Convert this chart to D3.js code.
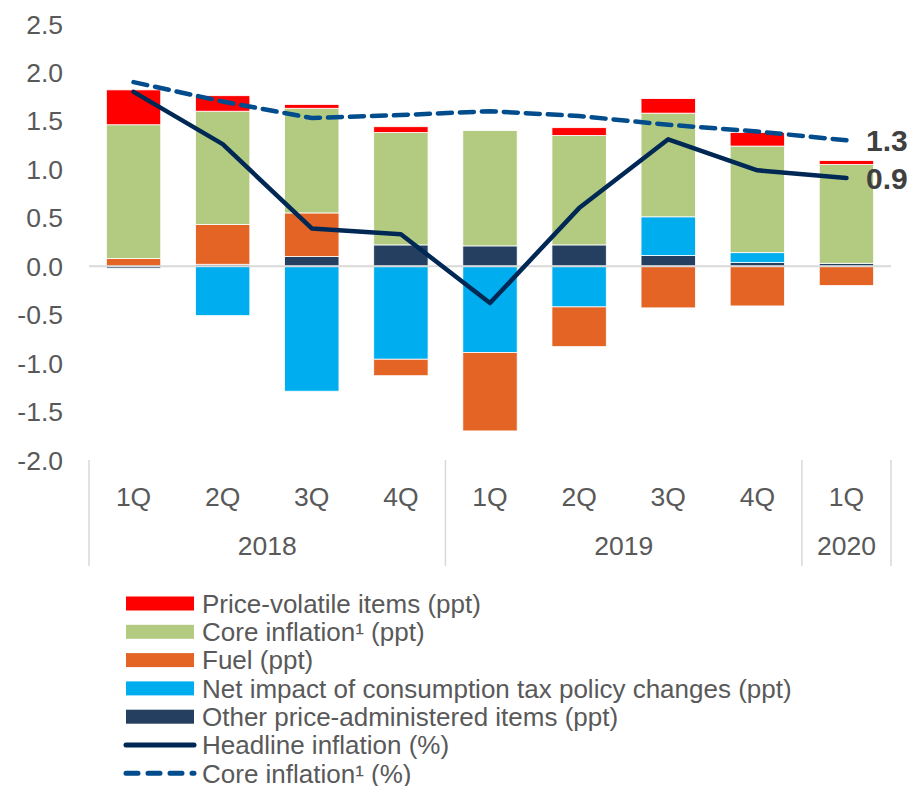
<!DOCTYPE html>
<html>
<head>
<meta charset="utf-8">
<script src="https://cdn.jsdelivr.net/npm/d3@7"></script>
<style>
  body { margin: 0; background: #fff; }
  text { font-family: "Liberation Sans", Arial, sans-serif; }
</style>
</head>
<body>
<div id="chart"></div>
<script>
const quarters = ["1Q", "2Q", "3Q", "4Q", "1Q", "2Q", "3Q", "4Q", "1Q"];
const years = [
  { label: "2018", start: 0, end: 4 },
  { label: "2019", start: 4, end: 8 },
  { label: "2020", start: 8, end: 9 },
];
const otherAdmin = [-0.02, 0.02, 0.1, 0.22, 0.21, 0.22, 0.11, 0.04, 0.03];
const consTax = [0, -0.51, -1.29, -0.96, -0.89, -0.42, 0.4, 0.1, 0];
const fuel = [0.08, 0.41, 0.45, -0.17, -0.81, -0.41, -0.43, -0.41, -0.2];
const coreContrib = [1.38, 1.17, 1.08, 1.16, 1.19, 1.13, 1.07, 1.1, 1.02];
const volatile = [0.36, 0.16, 0.04, 0.06, 0, 0.08, 0.15, 0.14, 0.04];
const headline = [1.8, 1.26, 0.39, 0.33, -0.38, 0.6, 1.31, 0.99, 0.91];
const coreRate = [1.9, 1.7, 1.53, 1.56, 1.6, 1.55, 1.46, 1.39, 1.3];
const yTicks = [-2, -1.5, -1, -0.5, 0, 0.5, 1, 1.5, 2, 2.5];

const series = [
  { key: "other", name: "Other price-administered items (ppt)", values: otherAdmin, color: "#243F60" },
  { key: "tax", name: "Net impact of consumption tax policy changes (ppt)", values: consTax, color: "#00AEEF" },
  { key: "fuel", name: "Fuel (ppt)", values: fuel, color: "#E46426" },
  { key: "core", name: "Core inflation\u00b9 (ppt)", values: coreContrib, color: "#B3CB81" },
  { key: "vol", name: "Price-volatile items (ppt)", values: volatile, color: "#FF0000" },
];

const width = 913, height = 786;
const m = { left: 89, right: 22, top: 24, plotBottom: 460 };

const svg = d3.select("#chart").append("svg")
  .attr("width", width).attr("height", height);

const idx = d3.range(quarters.length);
const x = d3.scaleBand().domain(idx).range([m.left, width - m.right]).paddingInner(0.39).paddingOuter(0.195);
const y = d3.scaleLinear().domain([-2, 2.5]).range([m.plotBottom, m.top]);

const rows = idx.map(i => {
  const r = { i };
  series.forEach(s => r[s.key] = s.values[i]);
  return r;
});
const stacked = d3.stack().keys(series.map(s => s.key)).offset(d3.stackOffsetDiverging)(rows);

// y labels
svg.append("g").selectAll("text").data(yTicks).join("text")
  .attr("x", 63).attr("y", d => y(d)).attr("dy", "0.36em")
  .attr("text-anchor", "end").attr("font-size", 26.5).attr("fill", "#595959")
  .text(d => d3.format(".1f")(d).replace("\u2212", "-"));

// bars
svg.append("g").selectAll("g").data(stacked).join("g")
  .attr("fill", (d, k) => series[k].color)
  .selectAll("rect").data(d => d).join("rect")
  .attr("x", d => x(d.data.i))
  .attr("width", x.bandwidth())
  .attr("y", d => y(d[1]))
  .attr("height", d => Math.max(0, y(d[0]) - y(d[1])))
  .attr("stroke", "#fff").attr("stroke-width", 0.8);

// zero line
svg.append("line")
  .attr("x1", m.left).attr("x2", width - m.right)
  .attr("y1", y(0)).attr("y2", y(0))
  .attr("stroke", "#D9D9D9").attr("stroke-width", 2);

// category axis
const step = x.step();
const x0 = m.left;
const sepX = [0, 4, 8, 9].map(k => x0 + k * step);
svg.append("g").selectAll("line").data(sepX).join("line")
  .attr("x1", d => d).attr("x2", d => d)
  .attr("y1", m.plotBottom).attr("y2", 566)
  .attr("stroke", "#D9D9D9").attr("stroke-width", 1.5);

svg.append("g").selectAll("text").data(idx).join("text")
  .attr("x", i => x(i) + x.bandwidth() / 2).attr("y", 496).attr("dy", "0.36em")
  .attr("text-anchor", "middle").attr("font-size", 26.5).attr("fill", "#595959")
  .text(i => quarters[i]);

svg.append("g").selectAll("text").data(years).join("text")
  .attr("x", d => x0 + (d.start + d.end) / 2 * step).attr("y", 545).attr("dy", "0.36em")
  .attr("text-anchor", "middle").attr("font-size", 26.5).attr("fill", "#595959")
  .text(d => d.label);

// lines
const line = d3.line().x((d, i) => x(i) + x.bandwidth() / 2).y(d => y(d));
svg.append("path").datum(coreRate)
  .attr("d", line).attr("fill", "none")
  .attr("stroke", "#004C8C").attr("stroke-width", 4.5)
  .attr("stroke-dasharray", "14,8").attr("stroke-linecap", "round");
svg.append("path").datum(headline)
  .attr("d", line).attr("fill", "none")
  .attr("stroke", "#002855").attr("stroke-width", 4.5)
  .attr("stroke-linejoin", "round").attr("stroke-linecap", "round");

// end labels
const last = quarters.length - 1;
[[coreRate[last], "1.3"], [headline[last], "0.9"]].forEach(([v, t]) => {
  svg.append("text")
    .attr("x", 866).attr("y", y(v)).attr("dy", "0.36em")
    .attr("font-size", 30).attr("font-weight", "bold").attr("fill", "#404040")
    .text(t);
});

// legend
const legendItems = [
  { name: "Price-volatile items (ppt)", color: "#FF0000", type: "box" },
  { name: "Core inflation\u00b9 (ppt)", color: "#B3CB81", type: "box" },
  { name: "Fuel (ppt)", color: "#E46426", type: "box" },
  { name: "Net impact of consumption tax policy changes (ppt)", color: "#00AEEF", type: "box" },
  { name: "Other price-administered items (ppt)", color: "#243F60", type: "box" },
  { name: "Headline inflation (%)", color: "#002855", type: "line" },
  { name: "Core inflation\u00b9 (%)", color: "#004C8C", type: "dash" },
];
const lg = svg.append("g").selectAll("g").data(legendItems).join("g")
  .attr("transform", (d, i) => `translate(0,${603.5 + i * 28.3})`);
lg.filter(d => d.type === "box").append("rect")
  .attr("x", 126).attr("y", -7).attr("width", 68).attr("height", 14)
  .attr("fill", d => d.color);
lg.filter(d => d.type !== "box").append("line")
  .attr("x1", 126).attr("x2", 194).attr("y1", 0).attr("y2", 0)
  .attr("stroke", d => d.color).attr("stroke-width", 5).attr("stroke-linecap", "round")
  .attr("stroke-dasharray", d => d.type === "dash" ? "12,10" : null);
lg.append("text")
  .attr("x", 202).attr("y", 0).attr("dy", "0.36em")
  .attr("font-size", 26).attr("fill", "#595959")
  .text(d => d.name);
</script>
</body>
</html>
